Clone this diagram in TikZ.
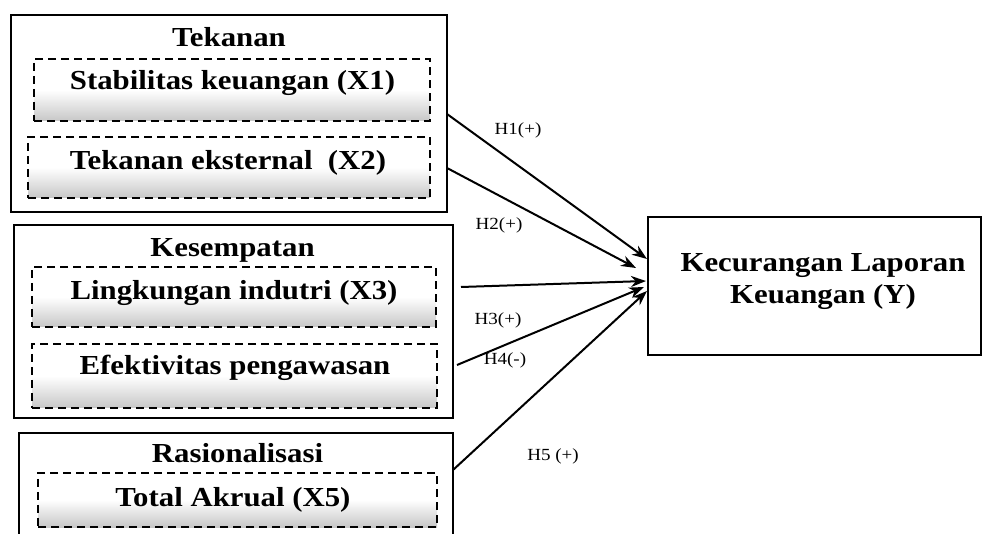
\documentclass[tikz,border=0pt]{standalone}
\usepackage{fontspec}
\setmainfont[FakeStretch=1.12]{Liberation Serif}
\usetikzlibrary{arrows.meta,calc}
\tikzset{
  group/.style={draw=black, line width=1.8pt, inner sep=0pt},
  varbox/.style={draw=black, line width=1.9pt, dash pattern=on 8pt off 5pt,
                 top color=white, bottom color=black!22, middle color=white,
                 inner sep=0pt},
  head/.style={font=\bfseries\fontsize{27.5}{32}\selectfont, inner sep=0pt},
  hyp/.style={font=\fontsize{17}{20}\selectfont, inner sep=0pt},
  link/.style={-{Stealth[length=15pt,width=11pt]}, line width=2pt},
}

\begin{document}
\begin{tikzpicture}[x=1pt, y=-1pt]
  \useasboundingbox (0,0) rectangle (983,534);
  \clip (0,0) rectangle (983,534);

  % left column: three groups of variables
  \node[group, minimum width=436pt, minimum height=197pt] (tek) at (229,113.5) {};
  \node[head, anchor=base] (tekT) at (229,47) {Tekanan};
  \node[varbox, minimum width=396pt, minimum height=62pt] (x1) at (232,90) {};
  \node[head, anchor=base] (x1T) at (232.5,90) {Stabilitas keuangan (X1)};
  \node[varbox, minimum width=402pt, minimum height=61pt] (x2) at (229,167.5) {};
  \node[head, anchor=base] (x2T) at (228,170) {Tekanan eksternal~ (X2)};

  \node[group, minimum width=439pt, minimum height=193pt] (kes) at (233.5,321.5) {};
  \node[head, anchor=base] (kesT) at (232.5,257) {Kesempatan};
  \node[varbox, minimum width=404pt, minimum height=60pt] (x3) at (234,297) {};
  \node[head, anchor=base] (x3T) at (234,300) {Lingkungan indutri (X3)};
  \node[varbox, minimum width=405pt, minimum height=64pt] (x4) at (234.5,376) {};
  \node[head, anchor=base] (x4T) at (235,375) {Efektivitas pengawasan};

  \node[group, minimum width=434pt, minimum height=127pt] (ras) at (236,496.5) {};
  \node[head, anchor=base] (rasT) at (237.5,463) {Rasionalisasi};
  \node[varbox, minimum width=399pt, minimum height=54pt] (x5) at (237.5,500) {};
  \node[head, anchor=base] (x5T) at (233,507) {Total Akrual (X5)};

  % dependent variable
  \node[group, minimum width=333pt, minimum height=138pt] (kec) at (814.5,286) {};
  \node[head, align=center] (kecT) at (823,281.5) {Kecurangan Laporan\\Keuangan (Y)};

  % start and end points of the paths
  \coordinate (s1) at (447,114);
  \coordinate (s2) at (447,168);
  \coordinate (s3) at (461,287);
  \coordinate (s4) at (457,365);
  \coordinate (s5) at (453,470);
  \coordinate (e1) at (647,259);
  \coordinate (e2) at (636,268);
  \coordinate (e3) at (646,281);
  \coordinate (e4) at (644,287);
  \coordinate (e5) at (647,291);

  \draw[link] (s1) -- (e1);
  \draw[link] (s2) -- (e2);
  \draw[link] (s3) -- (e3);
  \draw[link] (s4) -- (e4);
  \draw[link] (s5) -- (e5);

  \node[hyp] (h1) at (518,130) {H1(+)};
  \node[hyp] (h2) at (499,225) {H2(+)};
  \node[hyp] (h3) at (498,320) {H3(+)};
  \node[hyp] (h4) at (505,360) {H4(-)};
  \node[hyp] (h5) at (553,456) {H5 (+)};
\end{tikzpicture}
\end{document}
